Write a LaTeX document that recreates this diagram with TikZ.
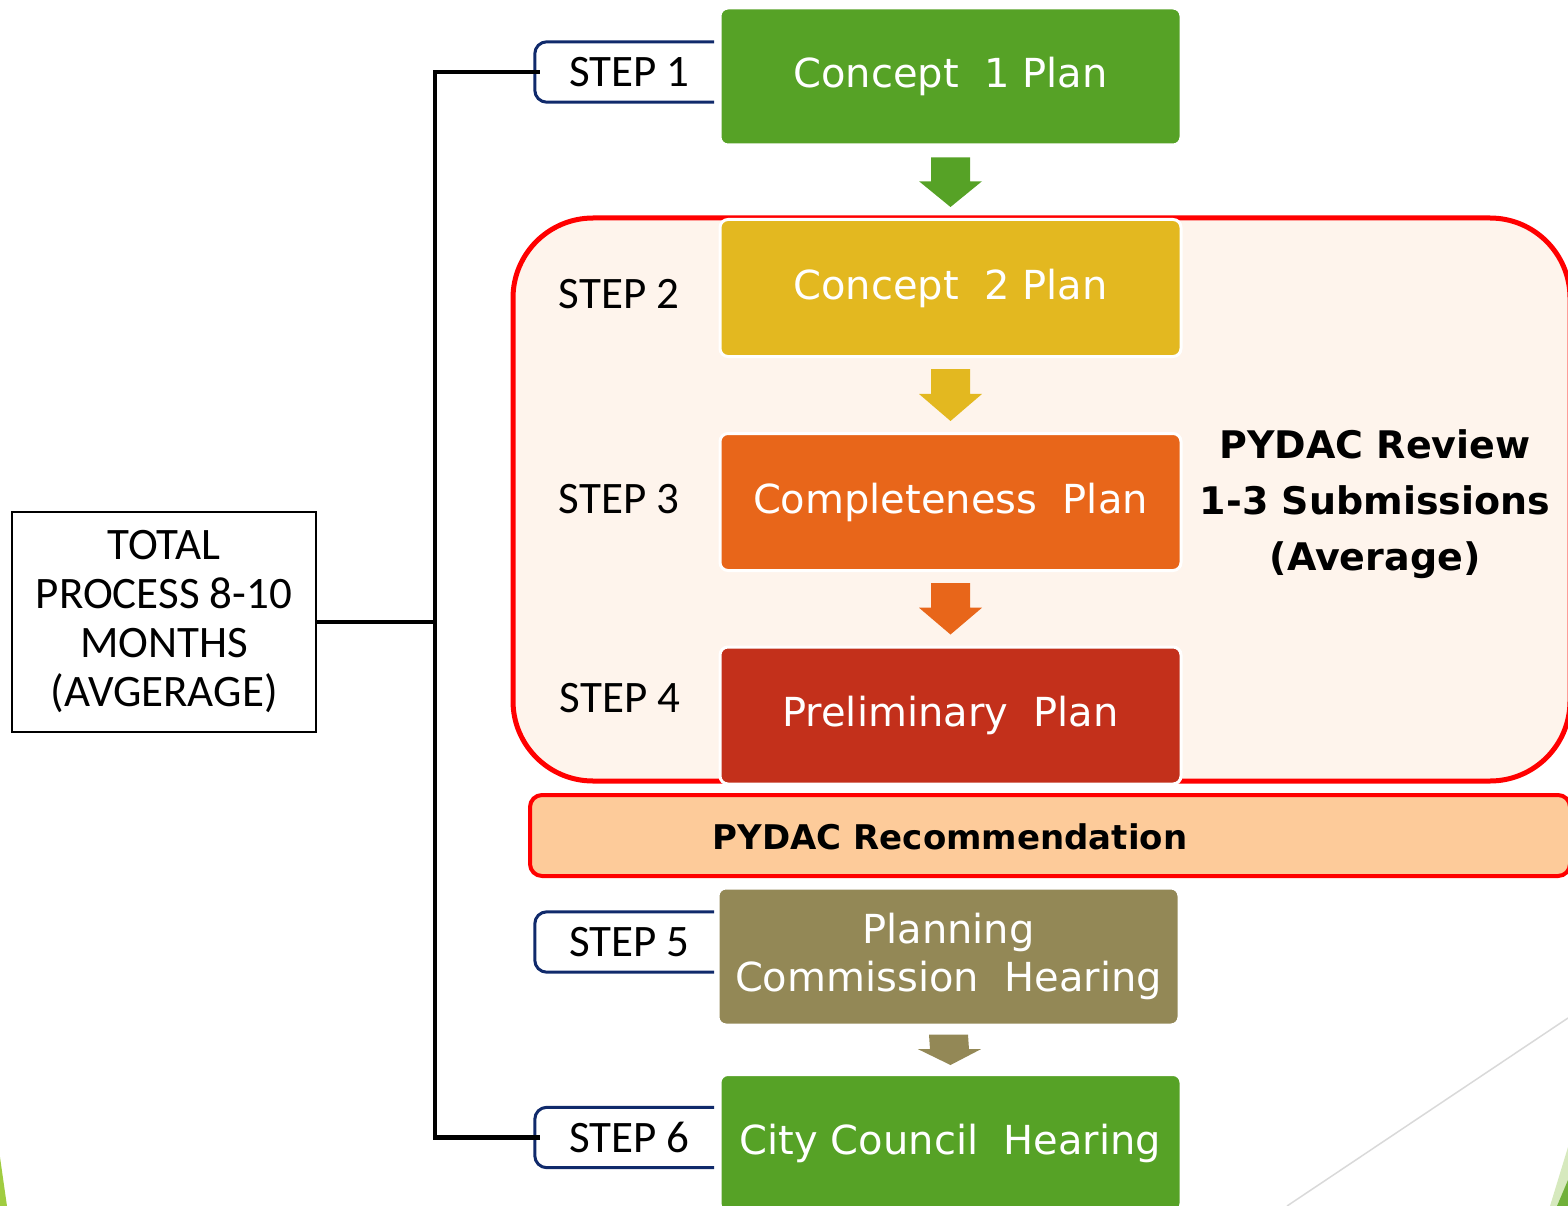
\documentclass[tikz,border=0pt]{standalone}
\usepackage{fontspec}
\setmainfont{Carlito}
\newfontfamily\boxfont{DejaVu Sans}
\usetikzlibrary{calc}

\definecolor{planGreen}{RGB}{86,162,38}
\definecolor{planYellow}{RGB}{227,184,32}
\definecolor{planOrange}{RGB}{232,102,26}
\definecolor{planRed}{RGB}{195,48,27}
\definecolor{planOlive}{RGB}{147,136,86}
\definecolor{reviewPink}{RGB}{254,244,236}
\definecolor{recPeach}{RGB}{253,203,154}
\definecolor{stepNavy}{RGB}{16,42,107}
\definecolor{leafLight}{RGB}{214,233,190}
\definecolor{leafGreen}{RGB}{112,176,58}
\definecolor{leafYellow}{RGB}{160,204,64}

% block arrow between two plan boxes: colour, from, to, gap
\newcommand{\blockarrow}[4]{%
  \path ($(#2.south)+(0,#4)$) coordinate (atop) ($(#3.north)+(0,-#4)$) coordinate (atip);
  \fill[#1] ($(atop)+(-19.5,0)$) -- ($(atop)+(19.5,0)$) -- ($($(atop)!.48!(atip)$)+(19.5,0)$)
    -- ($($(atop)!.48!(atip)$)+(31.5,0)$) -- (atip) -- ($($(atop)!.48!(atip)$)+(-31.5,0)$)
    -- ($($(atop)!.48!(atip)$)+(-19.5,0)$) -- cycle;
}

\begin{document}
\begin{tikzpicture}[x=1pt,y=-1pt,
    plan/.style={draw=white,line width=3pt,rounded corners=8pt,minimum width=461pt,
      minimum height=137pt,text=white,align=center,font=\boxfont\fontsize{40}{48}\selectfont},
    steplabel/.style={minimum width=179pt,minimum height=60pt,inner sep=0pt,font=\fontsize{45}{49}\selectfont},
    stepbracket/.style={draw=stepNavy,line width=3pt,rounded corners=12pt},
    link/.style={line width=4.5pt}]
  \useasboundingbox (0,0) rectangle (1568,1206);

  % review region
  \node[draw=red,line width=5pt,fill=reviewPink,rounded corners=80pt,
    minimum width=1057pt,minimum height=563pt] (review) at (1041.5,499.5) {};

  % plan boxes
  \node[plan,fill=planGreen] (c1) at (950.5,76.5) {Concept\ \ 1 Plan};
  \node[plan,fill=planYellow] (c2) at (950.5,288) {Concept\ \ 2 Plan};
  \node[plan,fill=planOrange] (c3) at (950.5,502) {Completeness\ \ Plan};
  \node[plan,fill=planRed] (c4) at (950.5,715.5) {Preliminary\ \ Plan};
  \node[plan,fill=planOlive] (pc) at (948.5,956.5) {Planning\\Commission\ \ Hearing};
  \node[plan,fill=planGreen] (cc) at (950.5,1143) {City Council\ \ Hearing};

  \node[align=center,font=\boxfont\bfseries\fontsize{38}{56}\selectfont] (rvw) at (1375,504)
    {PYDAC Review\\1-3 Submissions\\(Average)};

  % recommendation bar
  \node[draw=red,line width=4pt,fill=recPeach,rounded corners=12pt,
    minimum width=1040pt,minimum height=81pt] (recbar) at (1050,835.5) {};
  \node[font=\boxfont\bfseries\fontsize{34}{40}\selectfont] (rec) at (950,837) {PYDAC Recommendation};

  % arrows
  \blockarrow{planGreen}{c1}{c2}{11}
  \blockarrow{planYellow}{c2}{c3}{11}
  \blockarrow{planOrange}{c3}{c4}{11}
  \blockarrow{planOlive}{pc}{cc}{8}

  % step labels
  \node[steplabel] (s1) at (629.5,72) {STEP 1};
  \node[steplabel] (s2) at (619,294) {STEP 2};
  \node[steplabel] (s3) at (619,499) {STEP 3};
  \node[steplabel] (s4) at (620,698) {STEP 4};
  \node[steplabel] (s5) at (629.5,942) {STEP 5};
  \node[steplabel] (s6) at (629.5,1137.5) {STEP 6};
  \foreach \s in {s1,s5,s6}
    \draw[stepbracket] ($(\s.north east)+(-5,0)$) -- ($(\s.north west)+(-5,0)$)
      -- ($(\s.south west)+(-5,0)$) -- ($(\s.south east)+(-5,0)$);

  % total
  \node[draw,line width=2pt,minimum width=304pt,minimum height=220pt,align=center,
    font=\fontsize{45}{49}\selectfont] (total) at (164,622) {TOTAL\\PROCESS 8-10\\MONTHS\\(AVGERAGE)};

  \draw[link] (s1.west) -- ++(-105,0) coordinate (spine) |- (s6.west);
  \draw[link] (total.east) -- (total.east -| spine);

  % corner decoration
  \draw[black!15,line width=1.5pt] (1287,1206) -- (1568,1018);
  \fill[leafLight] (1550,1206) -- (1568,1147) -- (1568,1206) -- cycle;
  \fill[leafGreen] (1557,1206) -- (1568,1180) -- (1568,1206) -- cycle;
  \fill[leafYellow] (0,1157) -- (7,1206) -- (0,1206) -- cycle;
\end{tikzpicture}
\end{document}
